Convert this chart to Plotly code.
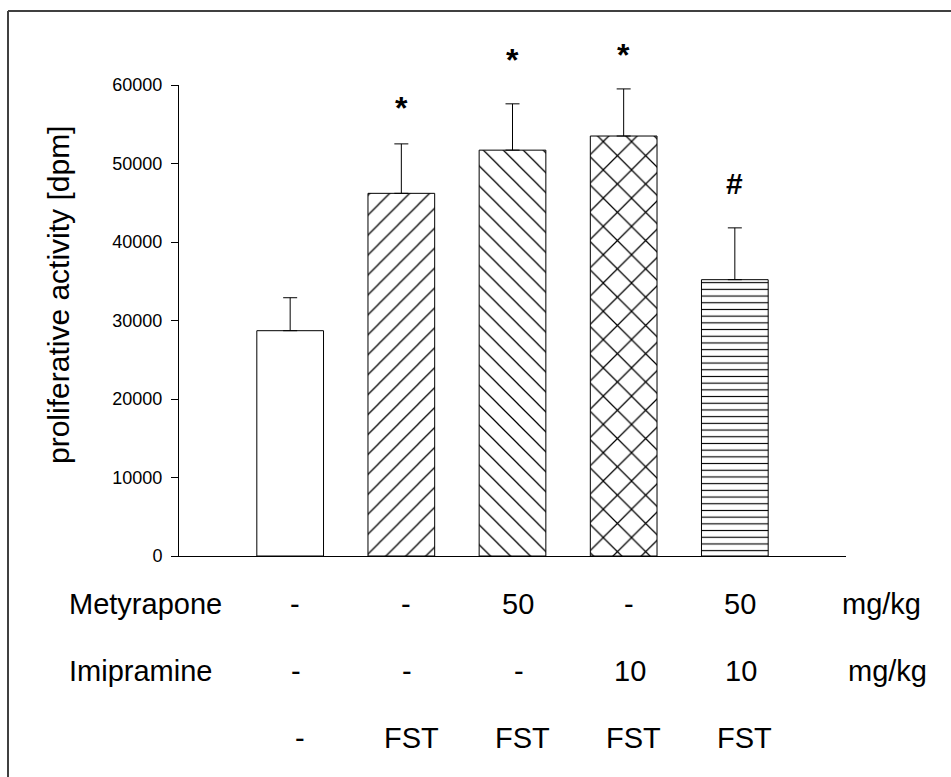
import plotly.graph_objects as go

# ---------------- data ----------------
groups = ["Control", "FST", "FST + Metyrapone", "FST + Imipramine", "FST + Metyrapone + Imipramine"]
means = [28700, 46200, 51700, 53500, 35200]
errors = [4200, 6300, 5900, 6000, 6600]
significance = ["", "*", "*", "*", "#"]
metyrapone = ["-", "-", "50", "-", "50"]
imipramine = ["-", "-", "-", "10", "10"]
stress = ["-", "FST", "FST", "FST", "FST"]
row_labels = ["Metyrapone", "Imipramine", ""]
unit_label = "mg/kg"
y_title = "proliferative activity [dpm]"
y_ticks = [0, 10000, 20000, 30000, 40000, 50000, 60000]

# ---------------- styles ----------------
patterns = ["", "/", "\\", "x", "-"]
pattern_sizes = [14.1, 14.1, 14.1, 20, 6.7]
pattern_solidity = [0.09, 0.09, 0.09, 0.12, 0.17]
sig_yshift = [0, 36, 44, 34, 44]
FONT = "Liberation Sans, Arial, Helvetica, sans-serif"

W, H = 951, 777
L, R, T, B = 179, 846, 85, 556  # plot area in pixels


def pxp(p):
    return (p - L) / (R - L)


def pyp(p):
    return (B - p) / (B - T)


xs = list(range(len(groups)))

fig = go.Figure()
fig.add_trace(go.Bar(
    x=xs,
    y=means,
    width=0.6,
    marker=dict(
        color="white",
        line=dict(color="black", width=1),
        pattern=dict(shape=patterns, size=pattern_sizes, solidity=pattern_solidity,
                     fgcolor="black", bgcolor="white", fillmode="replace"),
    ),
    error_y=dict(type="data", symmetric=False, array=errors, arrayminus=[0] * len(errors),
                 color="black", thickness=1, width=7),
    hovertext=groups,
    showlegend=False,
))

annotations = []
# significance markers
for i, s in enumerate(significance):
    if s:
        annotations.append(dict(
            x=xs[i], y=means[i] + errors[i], xref="x", yref="y",
            text="<b>%s</b>" % s, showarrow=False, yanchor="middle",
            yshift=sig_yshift[i],
            font=dict(family=FONT, size=32 if s == "*" else 30, color="black"),
        ))

# y-axis title
annotations.append(dict(
    x=pxp(58), y=pyp(295), xref="paper", yref="paper", text=y_title,
    textangle=-90, showarrow=False, xanchor="center", yanchor="middle",
    font=dict(family=FONT, size=30, color="black"),
))

# treatment table under the chart
rows = [metyrapone, imipramine, stress]
row_y = [604, 671, 738]
row_shift = [5, 6, 10]
for r, vals in enumerate(rows):
    if row_labels[r]:
        annotations.append(dict(
            x=pxp(67), y=pyp(row_y[r]), xref="paper", yref="paper",
            text=row_labels[r], showarrow=False, xanchor="left", yanchor="middle",
            font=dict(family=FONT, size=29, color="black"),
        ))
    for i, v in enumerate(vals):
        annotations.append(dict(
            x=xs[i], y=pyp(row_y[r]), xref="x", yref="paper", xshift=row_shift[r],
            text=v, showarrow=False, xanchor="center", yanchor="middle",
            font=dict(family=FONT, size=29, color="black"),
        ))
    if r < 2:
        annotations.append(dict(
            x=pxp(881 if r == 0 else 887), y=pyp(row_y[r]), xref="paper", yref="paper",
            text=unit_label, showarrow=False, xanchor="center", yanchor="middle",
            font=dict(family=FONT, size=29, color="black"),
        ))

# frame lines (top and left)
shapes = [
    dict(type="line", xref="paper", yref="paper", x0=pxp(8), x1=pxp(951), y0=pyp(11), y1=pyp(11),
         line=dict(color="#404040", width=2)),
    dict(type="line", xref="paper", yref="paper", x0=pxp(8), x1=pxp(8), y0=pyp(11), y1=pyp(777),
         line=dict(color="#404040", width=2)),
]

fig.update_layout(
    width=W, height=H,
    margin=dict(l=L, r=W - R, t=T, b=H - B, pad=0),
    paper_bgcolor="white", plot_bgcolor="white",
    font=dict(family=FONT, color="black"),
    xaxis=dict(range=[-1, 5], showline=True, linecolor="black", linewidth=1,
               ticks="", showticklabels=False, showgrid=False, zeroline=False),
    yaxis=dict(range=[0, 60000], tickvals=y_ticks, tickformat="d", ticks="outside",
               ticklen=7, tickwidth=1, tickcolor="black", showline=True, linecolor="black",
               linewidth=1, showgrid=False, zeroline=False, ticklabelstandoff=5,
               tickfont=dict(family=FONT, size=18, color="black")),
    annotations=annotations,
    shapes=shapes,
    showlegend=False,
)

fig.write_html("out.html", config={"displayModeBar": False},
               post_script="document.body.style.margin='0';document.body.style.overflow='hidden';")
